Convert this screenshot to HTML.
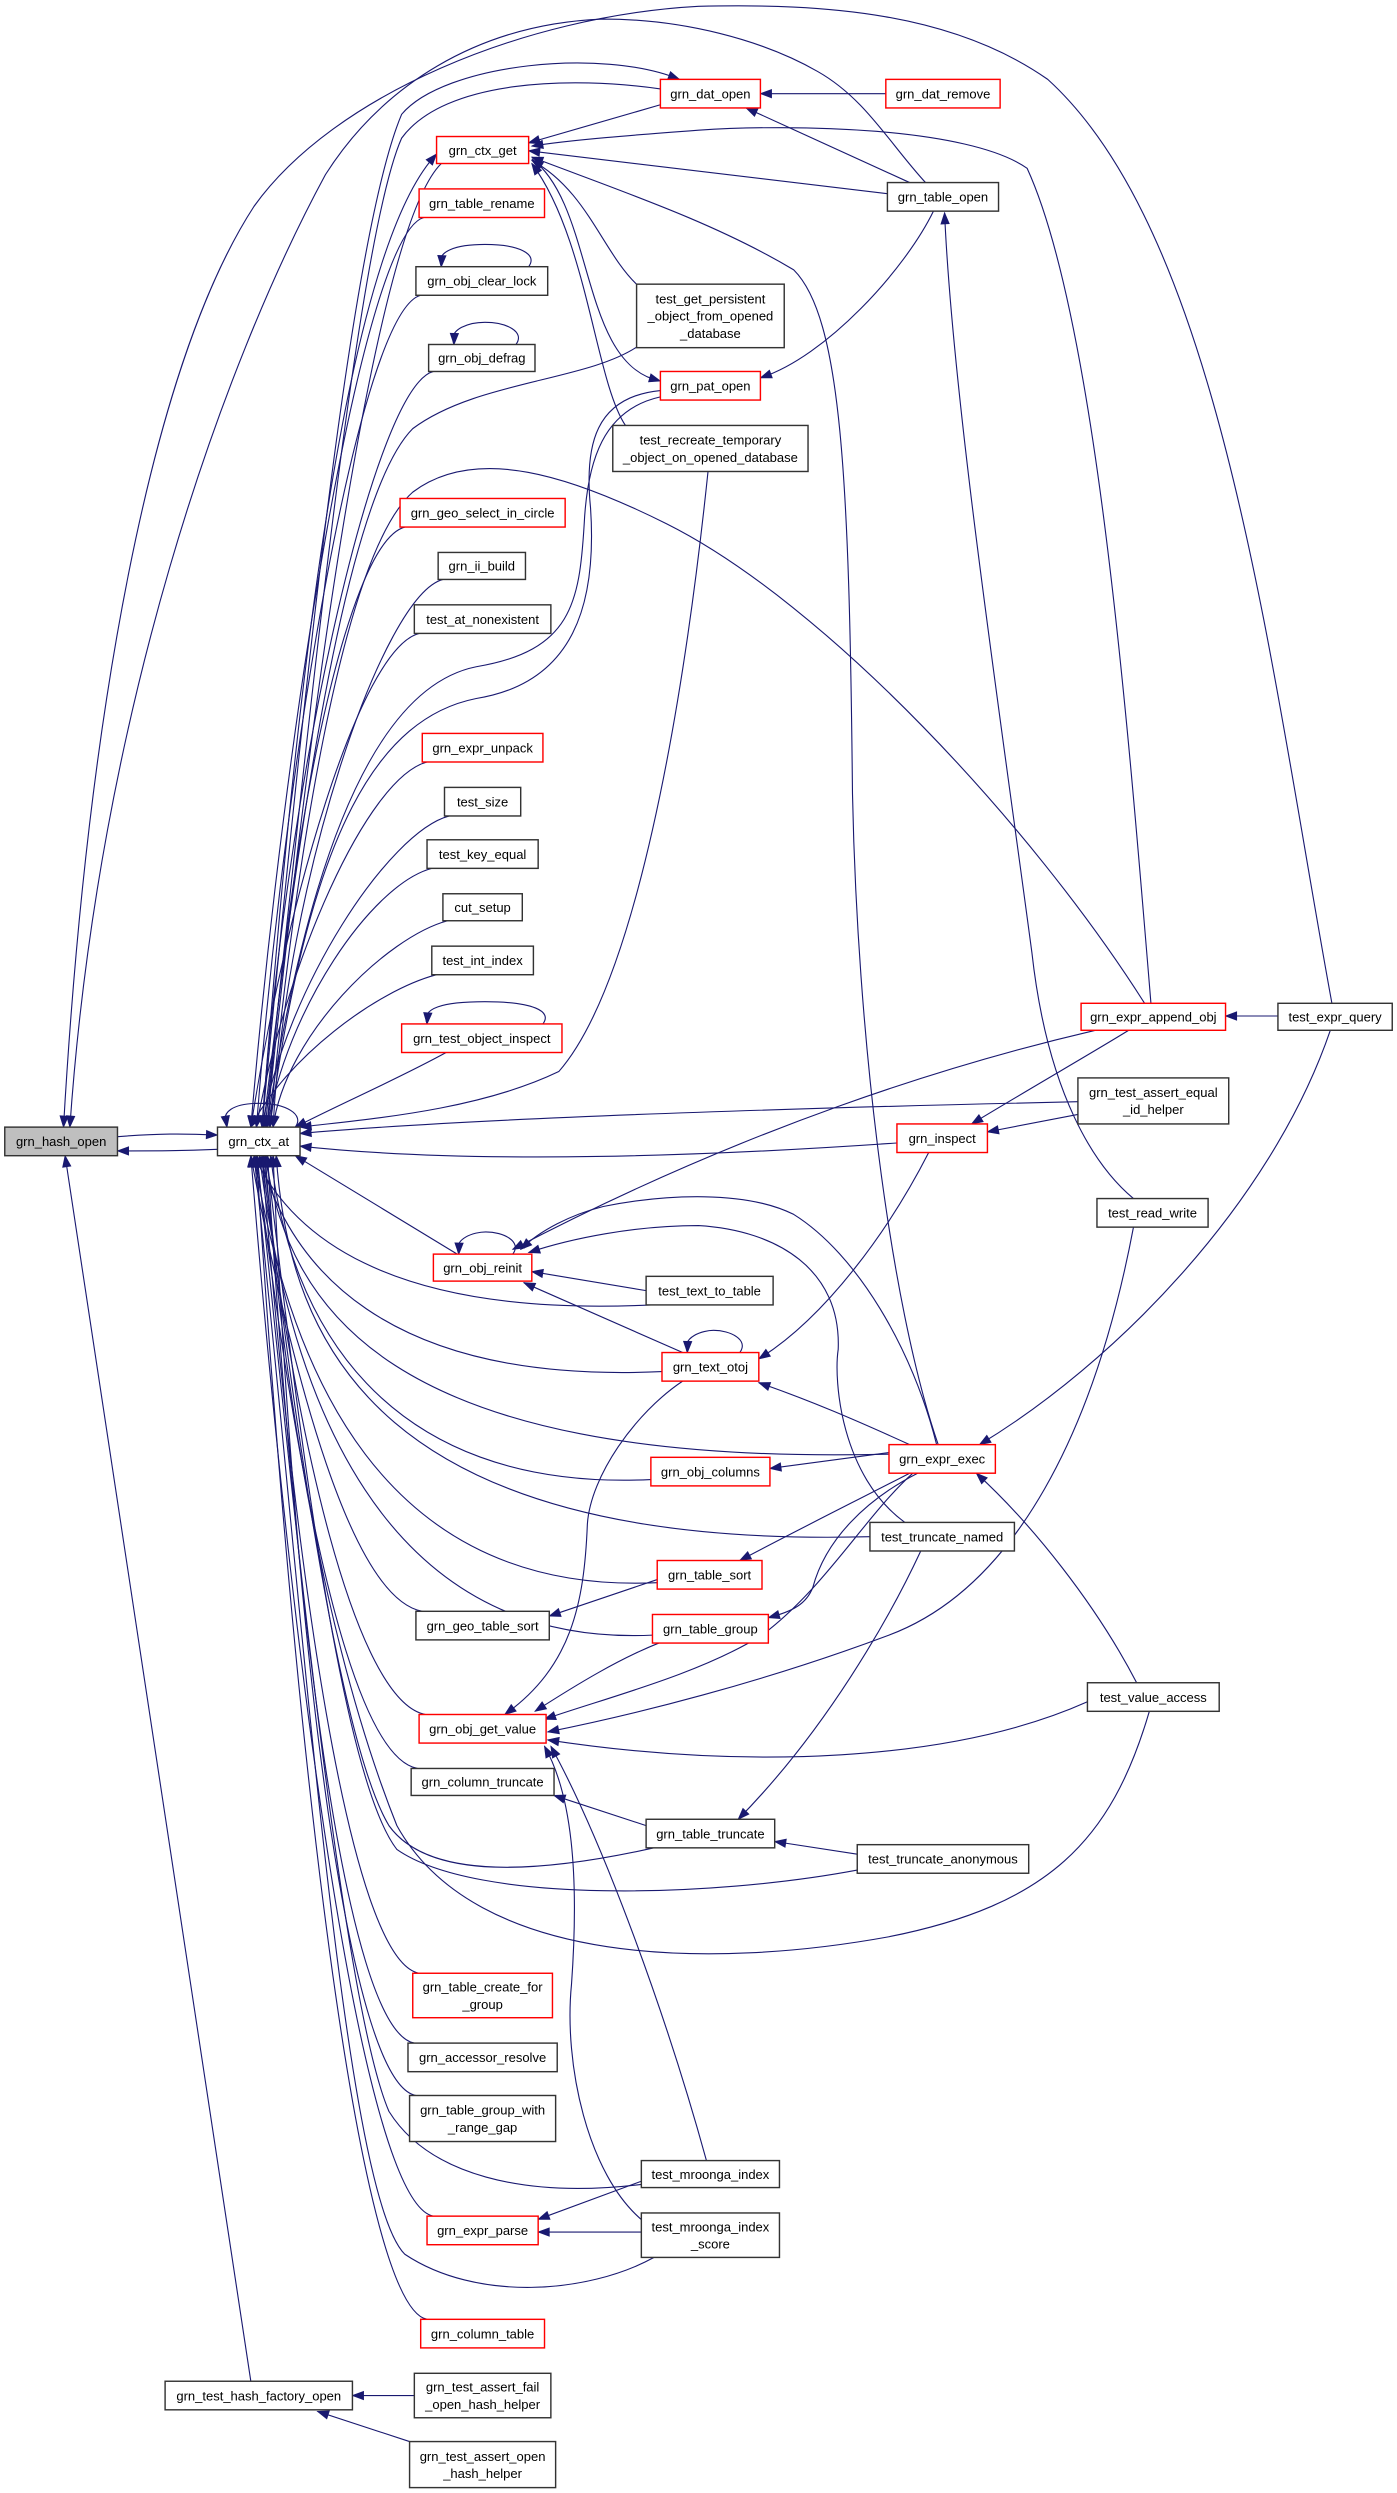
<!DOCTYPE html>
<html><head><meta charset="utf-8"><style>
html,body{margin:0;padding:0;background:#fff;}
svg{display:block;}
text{font-family:"Liberation Sans",Arial,sans-serif;font-size:8.2px;fill:#000;}
</style></head><body>
<svg id="g" xmlns="http://www.w3.org/2000/svg" width="1397" height="2493" viewBox="0 0 880 1570.4" preserveAspectRatio="none">
<rect x="0" y="0" width="880" height="1571" fill="#fff"/>
<g id="edges" fill="none" stroke="#191970" stroke-width="0.7"></g>
<g id="arrows" fill="#191970" stroke="#191970" stroke-width="0.5"></g>
<g id="nodes"></g>
</svg>
<script>
var NS="http://www.w3.org/2000/svg";
var N={
hash:[3,710,74,728,["grn_hash_open"],"g"],
ctx_at:[137,710,189,728,["grn_ctx_at"]],
factory:[104,1500,222,1518,["grn_test_hash_factory_open"]],
ctx_get:[275,86,333,103,["grn_ctx_get"],"r"],
table_rename:[264,119,343,137,["grn_table_rename"],"r"],
clear_lock:[262,168,345,186,["grn_obj_clear_lock"]],
defrag:[270,217,337,234,["grn_obj_defrag"]],
geo_select:[252,314,356,332,["grn_geo_select_in_circle"],"r"],
ii_build:[276,348,331,365,["grn_ii_build"]],
test_at:[261,381,347,399,["test_at_nonexistent"]],
expr_unpack:[266,462,342,480,["grn_expr_unpack"],"r"],
test_size:[280,496,328,514,["test_size"]],
key_equal:[269,529,339,547,["test_key_equal"]],
cut_setup:[279,563,329,580,["cut_setup"]],
int_index:[272,596,336,614,["test_int_index"]],
obj_inspect:[253,645,354,663,["grn_test_object_inspect"],"r"],
reinit:[273,790,335,807,["grn_obj_reinit"],"r"],
geo_table_sort:[262,1015,346,1033,["grn_geo_table_sort"]],
get_value:[264,1080,344,1098,["grn_obj_get_value"],"r"],
column_truncate:[259,1114,349,1131,["grn_column_truncate"]],
table_create:[260,1243,348,1271,["grn_table_create_for","_group"],"r"],
accessor:[257,1287,351,1305,["grn_accessor_resolve"]],
range_gap:[258,1320,350,1349,["grn_table_group_with","_range_gap"]],
expr_parse:[269,1396,339,1414,["grn_expr_parse"],"r"],
column_table:[265,1461,343,1479,["grn_column_table"],"r"],
fail_open:[261,1495,347,1523,["grn_test_assert_fail","_open_hash_helper"]],
open_hash:[258,1538,350,1567,["grn_test_assert_open","_hash_helper"]],
dat_open:[416,50,479,68,["grn_dat_open"],"r"],
dat_remove:[558,50,630,68,["grn_dat_remove"],"r"],
table_open:[559,115,629,133,["grn_table_open"]],
persistent:[401,179,494,219,["test_get_persistent","_object_from_opened","_database"]],
pat_open:[416,234,479,252,["grn_pat_open"],"r"],
recreate:[386,268,509,297,["test_recreate_temporary","_object_on_opened_database"]],
append_obj:[681,632,772,649,["grn_expr_append_obj"],"r"],
expr_query:[805,632,877,649,["test_expr_query"]],
equal_id:[679,679,774,708,["grn_test_assert_equal","_id_helper"]],
inspect:[565,708,622,726,["grn_inspect"],"r"],
read_write:[691,755,761,773,["test_read_write"]],
text_to_table:[407,804,487,822,["test_text_to_table"]],
otoj:[417,852,478,870,["grn_text_otoj"],"r"],
expr_exec:[560,910,627,928,["grn_expr_exec"],"r"],
obj_columns:[410,918,485,936,["grn_obj_columns"],"r"],
trunc_named:[548,959,639,977,["test_truncate_named"]],
table_sort:[414,983,480,1001,["grn_table_sort"],"r"],
table_group:[411,1017,484,1035,["grn_table_group"],"r"],
value_access:[685,1060,768,1078,["test_value_access"]],
table_truncate:[407,1146,488,1164,["grn_table_truncate"]],
trunc_anon:[540,1162,648,1180,["test_truncate_anonymous"]],
mroonga:[404,1361,491,1378,["test_mroonga_index"]],
mroonga_score:[404,1394,491,1422,["test_mroonga_index","_score"]]
};
var E=[
'M74,716 C100,714 115,714 137,715',
'M137,724 C115,725 100,725 74,725',
'M158,1500 L41,728',
'M261,1509 L222,1509',
'M258,1538 L200,1519',
'M839,632 C800,420 770,150 660,50 C600,8 520,2 440,4 C330,10 210,60 160,130 C95,230 55,450 40,710',
'M583,115 C560,90 545,62 515,45 C480,25 430,12 380,12 C300,15 240,55 205,110 C140,230 62,450 44,710',
'M558,59 L479,59',
'M573,115 L470,68',
'M416,66 L333,90',
'M559,122 L333,95',
'M591,910 C560,820 540,650 537,500 C535,300 530,200 500,170 C450,140 390,120 335,99',
'M725,632 C710,450 690,200 647,106 C610,80 500,78 440,82 C400,85 360,88 335,92',
'M402,180 C380,160 370,120 335,101',
'M394,268 C375,240 370,150 335,103',
'M335,100 C375,130 365,230 416,240',
'M588,133 C570,170 520,225 479,238',
'M714,755 C690,735 660,690 650,600 C630,450 600,250 595,134',
'M805,640 L772,640',
'M721,632 C650,520 520,380 420,330 C360,300 300,280 260,310 C215,350 185,550 170,710',
'M711,649 C690,662 650,685 612,708',
'M679,702 L622,713',
'M679,694 C500,698 300,704 189,714',
'M565,720 C450,728 300,734 189,722',
'M690,649 C600,670 470,710 323,787',
'M585,726 C560,775 520,830 478,856',
'M573,910 C540,895 510,882 478,871',
'M430,852 L330,808',
'M407,813 L335,801',
'M590,910 C575,850 540,790 500,765 C470,750 420,752 380,760 C360,765 340,775 328,787',
'M570,959 C530,930 525,870 528,850 C530,800 490,775 440,772 C400,772 360,780 333,789',
'M560,915 L485,925',
'M573,928 C540,945 500,965 466,983',
'M578,928 C545,945 520,970 512,1000 C508,1010 500,1015 484,1019',
'M415,1035 C390,1045 365,1060 337,1078',
'M575,928 C545,955 520,1000 480,1030 C440,1055 380,1070 343,1083',
'M430,870 C400,890 372,930 370,960 C368,1010 360,1050 318,1080',
'M714,773 C690,900 640,1000 560,1030 C480,1060 400,1080 345,1091',
'M685,1072 C600,1110 470,1115 345,1096',
'M445,1361 C420,1270 380,1160 347,1100',
'M405,1399 C370,1370 355,1300 360,1250 C365,1180 360,1130 343,1100',
'M407,1150 L349,1131',
'M540,1168 L488,1160',
'M580,977 C560,1020 520,1090 465,1146',
'M716,1060 C690,1010 650,960 615,928',
'M838,649 C800,760 700,860 617,910',
'M404,1374 L339,1398',
'M404,1406 L339,1406',
'M414,995 L346,1018',
'M446,297 C430,450 400,620 352,675 C300,700 230,705 189,710',
'M281,663 C250,680 215,695 186,710',
'M288,790 L186,728',
'M165,710 C185,450 215,160 275,97',
'M165,710 C190,450 220,150 253,72 C280,40 380,30 428,50',
'M416,56 C360,48 280,50 253,87 C225,150 195,450 167,710',
'M278,103 C240,140 200,400 168,710',
'M402,218 C370,240 300,240 260,270 C220,310 190,500 166,710',
'M416,250 C380,258 370,290 368,330 C365,380 360,410 300,420 C250,430 200,500 168,710',
'M416,246 C375,250 368,280 372,320 C376,380 362,430 300,440 C240,452 195,520 170,710',
'M724,1078 C700,1160 660,1200 560,1220 C450,1240 300,1240 250,1150 C210,1050 180,900 167,728'
];
var topC=['table_rename','clear_lock','defrag','geo_select','ii_build','test_at','expr_unpack','test_size','key_equal','cut_setup','int_index'];
topC.forEach(function(k,i){var n=N[k];var sx=n[0]+3,sy=n[3];var ex=158+(i%5)*3.5;
E.push('M'+sx+','+sy+' C'+(n[0]-35)+','+(sy+10)+' '+180+','+(sy+(710-sy)*0.55)+' '+ex+',710');});
var botC=['geo_table_sort','column_truncate','table_create','accessor','range_gap','expr_parse','column_table','get_value'];
botC.forEach(function(k,i){var n=N[k];var sx=n[0]+4,sy=n[1];var ex=158+(i%5)*3.5;
E.push('M'+sx+','+sy+' C'+(n[0]-40)+','+(sy-8)+' '+185+','+(728+(sy-728)*0.5)+' '+ex+',728');});
var botR=[[410,822],[417,864],[560,916],[410,932],[548,968],[414,997],[411,1030]];
botR.forEach(function(s,i){var ex=160+(i%5)*3.5;
E.push('M'+s[0]+','+s[1]+' C240,'+(s[1]+8)+' 182,'+(728+(s[1]-728)*0.5)+' '+ex+',728');});
// lower right nodes: go left nearly horizontal, then steep up
E.push('M412,1164 C340,1180 270,1185 245,1150 C215,1100 185,900 166,728');
E.push('M540,1178 C450,1195 300,1200 250,1165 C215,1120 188,900 168,728');
E.push('M404,1376 C330,1385 270,1370 245,1330 C215,1260 185,950 162,728');
E.push('M412,1422 C370,1445 300,1450 255,1420 C215,1380 190,1000 160,728');
['clear_lock','defrag','obj_inspect','reinit','otoj'].forEach(function(k){var n=N[k];var y=n[1];var a=n[2]-12,b=n[0]+16,c=(a+b)/2;
E.push('M'+a+','+y+' C'+(a+6)+','+(y-8)+' '+(a-6)+','+(y-14)+' '+c+','+(y-14)+' C'+(b+10)+','+(y-14)+' '+(b-4)+','+(y-10)+' '+b+','+y);});
E.push('M186,710 C192,702 180,695 163,695 C148,695 138,700 143,710');

var eg=document.getElementById('edges'),ag=document.getElementById('arrows');
E.forEach(function(d){var p=document.createElementNS(NS,'path');p.setAttribute('d',d);eg.appendChild(p);
var L=p.getTotalLength();var e=p.getPointAtLength(L),b=p.getPointAtLength(Math.max(0,L-7));
var ux=e.x-b.x,uy=e.y-b.y,m=Math.hypot(ux,uy)||1;ux/=m;uy/=m;var bx=e.x-7*ux,by=e.y-7*uy;
var t=document.createElementNS(NS,'polygon');
t.setAttribute('points',e.x+','+e.y+' '+(bx-2.6*uy)+','+(by+2.6*ux)+' '+(bx+2.6*uy)+','+(by-2.6*ux));ag.appendChild(t);});
var ng=document.getElementById('nodes');
for(var k in N){var n=N[k];var r=document.createElementNS(NS,'rect');
r.setAttribute('x',n[0]);r.setAttribute('y',n[1]);r.setAttribute('width',n[2]-n[0]);r.setAttribute('height',n[3]-n[1]);
r.setAttribute('fill',n[5]=='g'?'#bfbfbf':'#fff');r.setAttribute('stroke',n[5]=='r'?'#ff0000':'#333');r.setAttribute('stroke-width','0.9');ng.appendChild(r);
var lines=n[4],cy=(n[1]+n[3])/2,cx=(n[0]+n[2])/2;
lines.forEach(function(s,i){var t=document.createElementNS(NS,'text');t.setAttribute('x',cx);t.setAttribute('y',cy+(i-(lines.length-1)/2)*10.8+3);
t.setAttribute('text-anchor','middle');t.textContent=s;ng.appendChild(t);});}
</script>
</body></html>
